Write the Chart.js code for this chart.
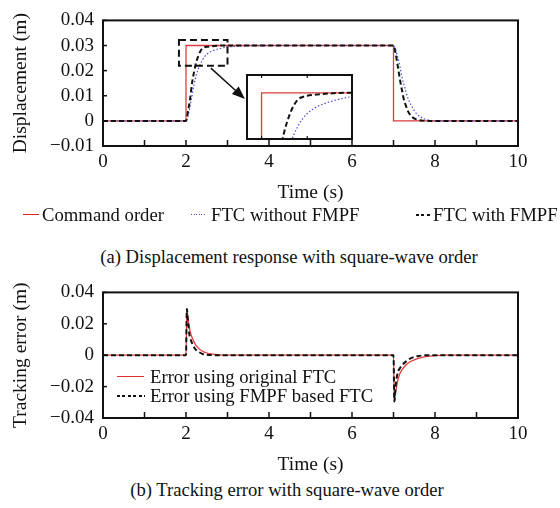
<!DOCTYPE html>
<html><head><meta charset="utf-8">
<script src="https://cdn.jsdelivr.net/npm/chart.js@4"></script>
<style>
html,body{margin:0;padding:0;background:#fff;}
#wrap{position:relative;width:560px;height:508px;overflow:hidden;font-family:"Liberation Serif","Times New Roman",serif;color:#111;background:#fff;}
canvas{position:absolute;}
.t{position:absolute;white-space:nowrap;font-size:18.7px;line-height:1;transform:translateY(-50%);}
.c{position:absolute;white-space:nowrap;font-size:18.6px;line-height:1;transform:translate(-50%,-50%);}
.s{position:absolute;}
.solid{height:1px;background:#e02020;}
.dot{height:1px;background:repeating-linear-gradient(90deg,#4a4ad8 0 1px,transparent 1px 2.5px);}
.dash{height:2px;background:repeating-linear-gradient(90deg,#111 0 3px,transparent 3px 5.5px);}
</style></head><body>
<div id="wrap">
  <canvas id="c1" width="560" height="205" style="left:0;top:0"></canvas>
  <canvas id="c2" width="560" height="205" style="left:0;top:272px"></canvas>
  <canvas id="c3" width="107" height="66" style="left:246px;top:74px;background:#fff"></canvas>

  <div class="s solid" style="left:23px;top:214px;width:16px"></div>
  <div class="t" style="left:42px;top:215px">Command order</div>
  <div class="s dot" style="left:191px;top:214px;width:15px"></div>
  <div class="t" style="left:211px;top:215px">FTC without FMPF</div>
  <div class="s dash" style="left:416px;top:214px;width:14px"></div>
  <div class="t" style="left:433px;top:215px">FTC with FMPF</div>
  <div class="c" style="left:289px;top:257px">(a) Displacement response with square-wave order</div>

  <div class="s solid" style="left:117px;top:376px;width:27px;background:#e03030"></div>
  <div class="t" style="left:150px;top:377px">Error using original FTC</div>
  <div class="s dash" style="left:117px;top:395px;width:28px"></div>
  <div class="t" style="left:150px;top:396px">Error using FMPF based FTC</div>
  <div class="c" style="left:287px;top:490px">(b) Tracking error with square-wave order</div>
</div>
<script>
// ---------- data ----------
const cmdTime  = [0, 2, 2, 7, 7, 10];
const cmdValue = [0, 0, 0.03, 0.03, 0, 0];

const respTime = [0, 2, 2.05, 2.1, 2.15, 2.2, 2.25, 2.3, 2.35, 2.4, 2.45, 2.5, 2.6, 2.75, 2.9, 3.0, 3.2, 3.5, 4.0,
                  7.0, 7.05, 7.1, 7.15, 7.2, 7.25, 7.3, 7.35, 7.45, 7.55, 7.7, 7.8, 7.9, 8.0, 10];
const ftcWithFmpf = [0, 0, 0.004, 0.009, 0.0155, 0.020, 0.0235, 0.026, 0.0278, 0.0289, 0.0293, 0.0295, 0.0297, 0.0299, 0.03, 0.03, 0.03, 0.03, 0.03,
                  0.03, 0.027, 0.022, 0.017, 0.0125, 0.0085, 0.006, 0.0038, 0.0016, 0.0006, 0.0001, 0, 0, 0, 0];
const ftcWithoutFmpf = [0, 0, 0.002, 0.006, 0.0105, 0.015, 0.0185, 0.0208, 0.0228, 0.0244, 0.0256, 0.0265, 0.0276, 0.0285, 0.0291, 0.0294, 0.0297, 0.0299, 0.03,
                  0.03, 0.0285, 0.0255, 0.022, 0.0178, 0.0145, 0.0115, 0.009, 0.0055, 0.003, 0.0011, 0.0005, 0.0001, 0, 0];

const errTime = [0, 2, 2.02, 2.05, 2.08, 2.1, 2.15, 2.2, 2.25, 2.3, 2.4, 2.5, 2.6, 2.8, 3.0, 3.2,
                 7.0, 7.02, 7.05, 7.1, 7.15, 7.2, 7.3, 7.4, 7.5, 7.6, 7.7, 7.8, 8.0, 8.2, 10];
const errOriginal = [0, 0, 0.0295, 0.023, 0.018, 0.015, 0.011, 0.0082, 0.006, 0.0045, 0.0025, 0.0014, 0.0008, 0.0002, 0.00005, 0,
                 0, -0.0295, -0.024, -0.0165, -0.012, -0.0095, -0.0062, -0.0042, -0.003, -0.0021, -0.0014, -0.0008, -0.0003, 0, 0];
const errFmpf = [0, 0, 0.0295, 0.021, 0.0134, 0.011, 0.0075, 0.0048, 0.0032, 0.0022, 0.0008, 0.0003, 0.0001, 0, 0, 0,
                 0, -0.0295, -0.02, -0.0113, -0.0085, -0.0065, -0.004, -0.0022, -0.0011, -0.0005, -0.0002, 0, 0, 0, 0];

const xTickLabels = ['0', '', '2', '', '4', '', '6', '', '8', '', '10'];
const yTicksTop = [-0.01, 0, 0.01, 0.02, 0.03, 0.04];
const yLabelsTop = ['\u22120.01', '0', '0.01', '0.02', '0.03', '0.04'];
const yTicksBottom = [-0.04, -0.02, 0, 0.02, 0.04];
const yLabelsBottom = ['\u22120.04', '\u22120.02', '0', '0.02', '0.04'];

// ---------- helpers ----------
const pts = (xs, ys) => xs.map((x, i) => ({x: x, y: ys[i]}));
const FONT = '"Liberation Serif","Times New Roman",serif';
const RED = '#e03a3a', BLUE = '#4a4ad8', BLACK = '#111';

function labelFor(v, ticks, labels) {
  for (let i = 0; i < ticks.length; i++) if (Math.abs(ticks[i] - v) < 1e-9) return labels[i];
  return '';
}

const framePlugin = {
  id: 'frame',
  afterDraw(chart) {
    const {ctx, chartArea: a} = chart;
    const xs = chart.scales.x, ys = chart.scales.y;
    ctx.save();
    ctx.setLineDash([]);
    ctx.strokeStyle = BLACK;
    ctx.lineWidth = 1.5;
    xs.ticks.forEach(t => {
      const px = xs.getPixelForValue(t.value);
      ctx.beginPath(); ctx.moveTo(px, a.bottom); ctx.lineTo(px, a.bottom - 6); ctx.stroke();
    });
    ys.ticks.forEach(t => {
      const py = ys.getPixelForValue(t.value);
      ctx.beginPath(); ctx.moveTo(a.left, py); ctx.lineTo(a.left + 4, py); ctx.stroke();
    });
    ctx.lineWidth = 2;
    ctx.strokeRect(a.left, a.top, a.right - a.left, a.bottom - a.top);
    ctx.restore();
  }
};

const zoomMarkPlugin = {
  id: 'zoomMark',
  afterDatasetsDraw(chart) {
    const {ctx} = chart;
    const xs = chart.scales.x, ys = chart.scales.y;
    const x0 = xs.getPixelForValue(1.83), x1 = xs.getPixelForValue(3.0);
    const y0 = ys.getPixelForValue(0.0322), y1 = ys.getPixelForValue(0.0219);
    ctx.save();
    ctx.strokeStyle = BLACK; ctx.lineWidth = 2; ctx.setLineDash([7, 4]);
    ctx.strokeRect(x0, y0, x1 - x0, y1 - y0);
    ctx.setLineDash([]);
    const sx = xs.getPixelForValue(2.6), sy = ys.getPixelForValue(0.021);
    const ex = xs.getPixelForValue(3.42), ey = ys.getPixelForValue(0.0087);
    const ang = Math.atan2(ey - sy, ex - sx);
    const L = 13, W = 5;
    ctx.lineWidth = 1.5;
    ctx.beginPath(); ctx.moveTo(sx, sy);
    ctx.lineTo(ex - L * Math.cos(ang), ey - L * Math.sin(ang)); ctx.stroke();
    ctx.fillStyle = BLACK;
    ctx.beginPath();
    ctx.moveTo(ex, ey);
    ctx.lineTo(ex - L * Math.cos(ang) + W * Math.sin(ang), ey - L * Math.sin(ang) - W * Math.cos(ang));
    ctx.lineTo(ex - L * Math.cos(ang) - W * Math.sin(ang), ey - L * Math.sin(ang) + W * Math.cos(ang));
    ctx.closePath(); ctx.fill();
    ctx.restore();
  }
};

function mainChart(id, datasets, yMin, yMax, yStep, yTicks, yLabels, yTitle, extra) {
  return new Chart(document.getElementById(id), {
    type: 'line',
    data: {datasets: datasets},
    options: {
      responsive: false, animation: false, devicePixelRatio: 1,
      layout: {padding: {top: 16, right: 42, left: 0, bottom: 0}},
      plugins: {legend: {display: false}, tooltip: {enabled: false}},
      elements: {point: {radius: 0}},
      scales: {
        x: {
          type: 'linear', min: 0, max: 10,
          grid: {display: false, drawTicks: false}, border: {display: false},
          ticks: {stepSize: 1, autoSkip: false, maxRotation: 0, padding: 5, color: BLACK,
                  font: {family: FONT, size: 19, weight: 'normal'},
                  callback: v => xTickLabels[Math.round(v)] ?? ''},
          title: {display: true, text: 'Time (s)', color: BLACK, font: {family: FONT, size: 19.5, weight: 'normal'},
                  padding: {top: 0, bottom: 0}},
          afterFit: s => { s.height = 59; }
        },
        y: {
          min: yMin, max: yMax,
          grid: {display: false, drawTicks: false}, border: {display: false},
          ticks: {stepSize: yStep, autoSkip: false, padding: 9, color: BLACK,
                  font: {family: FONT, size: 19, weight: 'normal'},
                  callback: v => labelFor(v, yTicks, yLabels)},
          title: {display: true, text: yTitle, color: BLACK, font: {family: FONT, size: 19.5, weight: 'normal'},
                  padding: {top: 9, bottom: 0}},
          afterFit: s => { s.width = 103; }
        }
      }
    },
    plugins: [framePlugin].concat(extra || [])
  });
}

const topSets = () => [
  {data: pts(respTime, ftcWithFmpf), borderColor: BLACK, borderWidth: 2, borderDash: [5, 3], cubicInterpolationMode: 'monotone', fill: false},
  {data: pts(respTime, ftcWithoutFmpf), borderColor: BLUE, borderWidth: 1.2, borderDash: [1.5, 2], cubicInterpolationMode: 'monotone', fill: false},
  {data: pts(cmdTime, cmdValue), borderColor: RED, borderWidth: 1.3, tension: 0, fill: false}
];

mainChart('c1', topSets(), -0.01, 0.04, 0.01, yTicksTop, yLabelsTop, 'Displacement (m)', [zoomMarkPlugin]);

mainChart('c2', [
  {data: pts(errTime, errFmpf), borderColor: BLACK, borderWidth: 2, borderDash: [5, 3], cubicInterpolationMode: 'monotone', fill: false},
  {data: pts(errTime, errOriginal), borderColor: RED, borderWidth: 1.3, cubicInterpolationMode: 'monotone', fill: false}
], -0.04, 0.04, 0.02, yTicksBottom, yLabelsBottom, 'Tracking error (m)');

// inset (zoomed view of the rising edge)
const insetFrame = {
  id: 'insetFrame',
  afterDraw(chart) {
    const {ctx, width, height} = chart;
    const xs = chart.scales.x;
    ctx.save();
    ctx.setLineDash([]);
    ctx.strokeStyle = BLACK; ctx.lineWidth = 1.2;
    [2.0, 2.5].forEach(v => {
      const px = xs.getPixelForValue(v);
      ctx.beginPath(); ctx.moveTo(px, height); ctx.lineTo(px, height - 4); ctx.stroke();
      ctx.beginPath(); ctx.moveTo(px, 0); ctx.lineTo(px, 4); ctx.stroke();
    });
    ctx.lineWidth = 2;
    ctx.strokeRect(1, 1, width - 2, height - 2);
    ctx.restore();
  }
};
new Chart(document.getElementById('c3'), {
  type: 'line',
  data: {datasets: topSets()},
  options: {
    responsive: false, animation: false, devicePixelRatio: 1,
    layout: {padding: 0},
    plugins: {legend: {display: false}, tooltip: {enabled: false}},
    elements: {point: {radius: 0}},
    scales: {
      x: {type: 'linear', min: 1.83, max: 3.0, display: false},
      y: {min: 0.022, max: 0.0332, display: false}
    }
  },
  plugins: [insetFrame]
});
</script>
</body></html>
